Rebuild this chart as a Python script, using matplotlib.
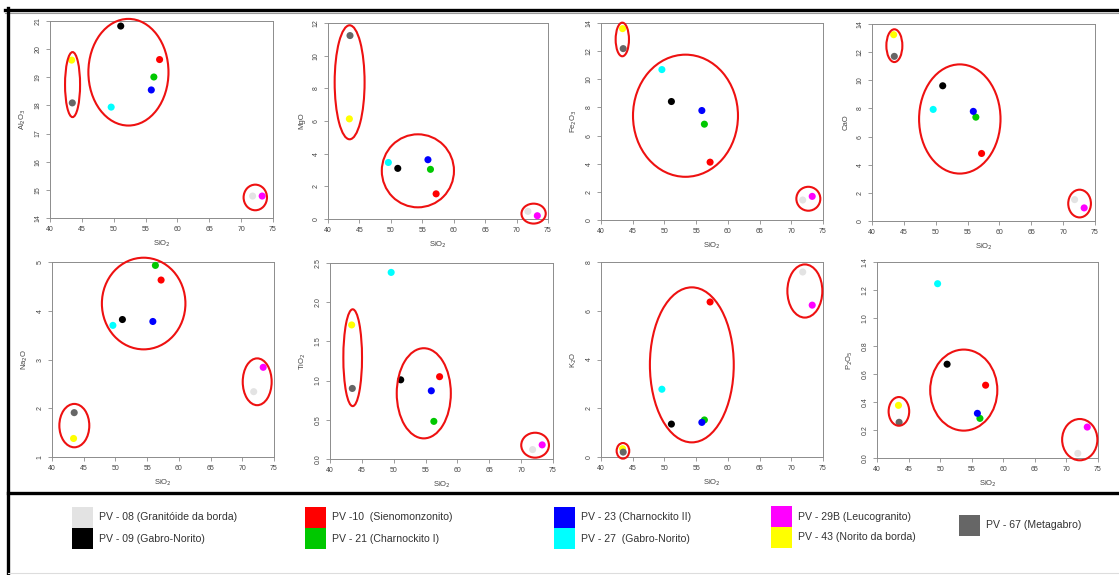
import matplotlib
matplotlib.use("Agg")
import matplotlib.pyplot as plt
from matplotlib.patches import Ellipse, Rectangle
from matplotlib.lines import Line2D

plt.rcParams['font.family'] = ['Liberation Sans', 'DejaVu Sans']

# ---------------- data ----------------
samples = ["PV - 08 (Granitóide da borda)", "PV - 09 (Gabro-Norito)",
           "PV -10  (Sienomonzonito)", "PV - 21 (Charnockito I)",
           "PV - 23 (Charnockito II)", "PV - 27  (Gabro-Norito)",
           "PV - 29B (Leucogranito)", "PV - 43 (Norito da borda)",
           "PV - 67 (Metagabro)"]
colors = ["#e3e3e3", "#000000", "#ff0000", "#00c800", "#0000ff",
          "#00ffff", "#ff00ff", "#ffff00", "#666666"]

sio2 = [71.8, 51.1, 57.2, 56.3, 55.9, 49.6, 73.3, 43.4, 43.5]
al2o3 = [14.78, 20.82, 19.63, 19.01, 18.55, 17.94, 14.78, 19.61, 18.09]
mgo = [0.47, 3.10, 1.54, 3.04, 3.63, 3.46, 0.20, 6.13, 11.23]
fe2o3 = [1.42, 8.42, 4.11, 6.81, 7.78, 10.69, 1.68, 13.6, 12.18]
cao = [1.52, 9.61, 4.80, 7.38, 7.79, 7.93, 0.93, 13.24, 11.70]
na2o = [2.34, 3.82, 4.63, 4.93, 3.78, 3.70, 2.84, 1.38, 1.91]
tio2 = [0.12, 1.01, 1.05, 0.48, 0.87, 2.38, 0.18, 1.71, 0.90]
k2o = [7.59, 1.35, 6.36, 1.52, 1.42, 2.78, 6.23, 0.34, 0.20]
p2o5 = [0.033, 0.67, 0.52, 0.283, 0.319, 1.245, 0.221, 0.376, 0.255]

y_labels = ["Al$_2$O$_3$", "MgO", "Fe$_2$O$_3$", "CaO",
            "Na$_2$O", "TiO$_2$", "K$_2$O", "P$_2$O$_5$"]
x_label = "SiO$_2$"
x_ticks = [40, 45, 50, 55, 60, 65, 70, 75]
y_ticks = [
    [14, 15, 16, 17, 18, 19, 20, 21],
    [0, 2, 4, 6, 8, 10, 12],
    [0, 2, 4, 6, 8, 10, 12, 14],
    [0, 2, 4, 6, 8, 10, 12, 14],
    [1, 2, 3, 4, 5],
    [0.0, 0.5, 1.0, 1.5, 2.0, 2.5],
    [0, 2, 4, 6, 8],
    [0.0, 0.2, 0.4, 0.6, 0.8, 1.0, 1.2, 1.4],
]
y_fmt = ["{:.0f}", "{:.0f}", "{:.0f}", "{:.0f}", "{:.0f}", "{:.1f}", "{:.0f}", "{:.1f}"]

# grouping ellipses (center x, center y, width, height) in data units
groups_al2o3 = [(43.54, 18.74, 2.36, 2.31), (52.31, 19.18, 12.57, 3.79), (72.22, 14.73, 3.67, 0.91)]
groups_mgo = [(43.44, 8.37, 4.76, 6.98), (54.30, 2.95, 11.48, 4.47), (72.71, 0.33, 3.86, 1.22)]
groups_fe2o3 = [(43.36, 12.83, 2.10, 2.39), (53.32, 7.41, 16.55, 8.68), (72.69, 1.51, 3.78, 1.70)]
groups_cao = [(43.51, 12.46, 2.51, 2.33), (53.78, 7.25, 12.78, 7.76), (72.58, 1.24, 3.56, 1.97)]
groups_na2o = [(43.52, 1.644, 4.72, 0.89), (54.45, 4.148, 13.17, 1.88), (72.35, 2.543, 4.56, 0.96)]
groups_tio2 = [(43.56, 1.292, 2.93, 1.235), (54.72, 0.838, 8.49, 1.15), (72.19, 0.176, 4.35, 0.318)]
groups_k2o = [(43.46, 0.253, 1.99, 0.64), (54.32, 3.78, 13.22, 6.36), (72.14, 6.81, 5.51, 2.18)]
groups_p2o5 = [(43.47, 0.333, 3.26, 0.205), (53.74, 0.485, 10.63, 0.579), (72.11, 0.131, 5.58, 0.295)]

series = [al2o3, mgo, fe2o3, cao, na2o, tio2, k2o, p2o5]
groups = [groups_al2o3, groups_mgo, groups_fe2o3, groups_cao,
          groups_na2o, groups_tio2, groups_k2o, groups_p2o5]

# ---------------- layout ----------------
W, H = 1119, 575
fig = plt.figure(figsize=(W / 100, H / 100), dpi=100)
fig.patch.set_facecolor("white")

boxes = [  # left, right, top, bottom in pixels
    (50, 273, 21, 218), (328, 548, 23, 219), (601, 823, 23, 220), (872, 1095, 24, 221),
    (52, 274, 262, 457), (330, 553, 263, 459), (601, 823, 262, 457), (877, 1098, 262, 458),
]

spine_col = "#8c8c8c"
for i, (l, r, t, b) in enumerate(boxes):
    ax = fig.add_axes([l / W, 1 - b / H, (r - l) / W, (b - t) / H])
    ys = series[i]
    for xv, yv, c in zip(sio2, ys, colors):
        ax.scatter([xv], [yv], s=26, color=c, edgecolors="none", zorder=3, clip_on=False)
    for (cx, cy, w, h) in groups[i]:
        ax.add_patch(Ellipse((cx, cy), w, h, fill=False, edgecolor="#ee1111",
                             lw=1.5, zorder=4, clip_on=False))
    ax.set_xlim(40, 75)
    ax.set_ylim(y_ticks[i][0], y_ticks[i][-1])
    ax.set_xticks(x_ticks)
    ax.set_xticklabels([str(v) for v in x_ticks])
    ax.set_yticks(y_ticks[i])
    ax.set_yticklabels([y_fmt[i].format(v) for v in y_ticks[i]], rotation=90, va="center")
    ax.tick_params(axis="both", length=3, width=0.6, colors=spine_col,
                   labelsize=5, labelcolor="#444444", pad=3)
    for sp in ax.spines.values():
        sp.set_color(spine_col)
        sp.set_linewidth(0.7)
    ax.set_xlabel(x_label, fontsize=5.5, color="#444444", labelpad=4)
    ax.set_ylabel(y_labels[i], fontsize=5.5, color="#444444", labelpad=5)

# ---------------- frame lines ----------------
def fline(x0, y0, x1, y1, lw, col="black"):
    fig.add_artist(Line2D([x0 / W, x1 / W], [1 - y0 / H, 1 - y1 / H],
                          color=col, lw=lw, transform=fig.transFigure))

fline(5, 9.5, W, 9.5, 2.4)
fline(5, 12.5, W, 12.5, 0.8, "#9a9a9a")
fline(7.5, 8, 7.5, H, 2.4)
fline(7.5, 493, W, 493, 2.4)
fline(7.5, 573, W, 573, 0.8, "#dddddd")

# ---------------- legend ----------------
leg_pos = [  # square left x, square top y, text x
    (72, 507), (72, 528), (305, 507), (305, 528), (554, 507), (554, 528),
    (771, 506), (771, 527), (959, 515),
]
sq = 21
for (x, y), lab, c in zip(leg_pos, samples, colors):
    fig.add_artist(Rectangle((x / W, 1 - (y + sq) / H), sq / W, sq / H,
                             facecolor=c, edgecolor="none", transform=fig.transFigure))
    fig.text((x + sq + 6) / W, 1 - (y + sq / 2) / H, lab, fontsize=7.6,
             color="#333333", va="center", ha="left")

fig.savefig("out.png", dpi=100, facecolor="white")
